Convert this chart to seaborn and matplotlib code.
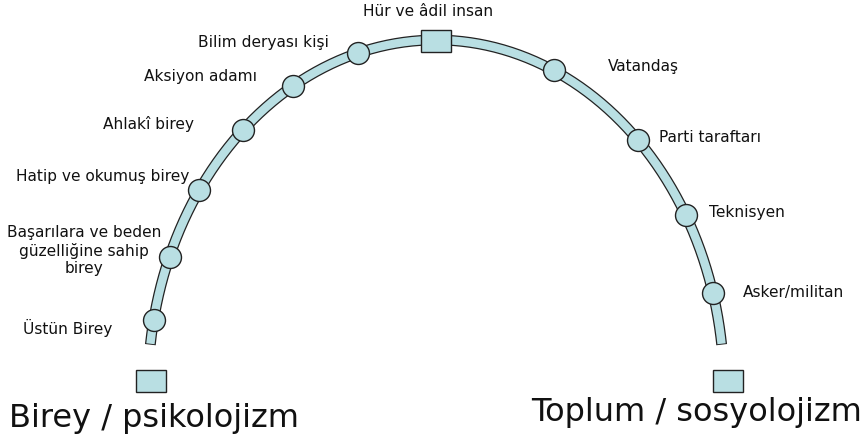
import numpy as np
import pandas as pd
import matplotlib
matplotlib.use("Agg")
import matplotlib.pyplot as plt
from matplotlib.patches import Rectangle
import seaborn as sns

# stages along the arc (angle on the arc, degrees), left = individual, right = society
labels = ["Üstün Birey", "Başarılara ve beden\ngüzelliğine sahip\nbirey",
          "Hatip ve okumuş birey", "Ahlakî birey", "Aksiyon adamı",
          "Bilim deryası kişi", "Vatandaş", "Parti taraftarı", "Teknisyen",
          "Asker/militan"]
angles = [168.6, 157.7, 145.3, 132.2, 119.8, 105.7, 65.9, 45.5, 29.9, 15.9]
top_label = "Hür ve âdil insan"
top_angle = 90.0
pole_labels = ["Birey / psikolojizm", "Toplum / sosyolojizm"]
arc_range = [172.7, 7.3]

# label centres (pixels)
label_xy = [(68, 328), (84, 251), (103, 176), (148, 124), (200, 77),
            (263, 42), (643, 67), (710, 137), (747, 212), (793, 293)]
top_xy = (428, 12)
pole_xy = [(154, 419), (697, 412)]

FILL = "#b9dfe3"
EDGE = "#222222"
cx, cy, a, b = 436, 389, 288, 349


def on_arc(deg):
    t = np.radians(np.asarray(deg, dtype=float))
    return cx + a * np.cos(t), cy - b * np.sin(t)


sns.set_theme(style="white")
plt.rcParams['font.family'] = ['DejaVu Sans']

fig = plt.figure(figsize=(8.63, 4.46), dpi=100)
ax = fig.add_axes([0, 0, 1, 1])
ax.set_xlim(0, 863)
ax.set_ylim(446, 0)
ax.axis("off")

# arc band
tt = np.linspace(arc_range[0], arc_range[1], 400)
ax_x, ax_y = on_arc(tt)
arc = pd.DataFrame({"x": ax_x, "y": ax_y})
sns.lineplot(data=arc, x="x", y="y", sort=False, ax=ax, color=EDGE,
             linewidth=7.8, solid_capstyle="butt", zorder=1)
tt2 = np.linspace(arc_range[0] - 0.15, arc_range[1] + 0.15, 400)
ix, iy = on_arc(tt2)
inner = pd.DataFrame({"x": ix, "y": iy})
sns.lineplot(data=inner, x="x", y="y", sort=False, ax=ax, color=FILL,
             linewidth=6.0, solid_capstyle="butt", zorder=2)

# circles for each stage
mx, my = on_arc(angles)
pts = pd.DataFrame({"x": mx, "y": my, "label": labels})
sns.scatterplot(data=pts, x="x", y="y", ax=ax, s=250, color=FILL,
                edgecolor=EDGE, linewidth=1.0, zorder=3, legend=False)

# squares: top and the two poles
sx, sy = on_arc(top_angle)
w, h = 30, 22
ax.add_patch(Rectangle((sx - w / 2, sy - h / 2 + 1), w, h, facecolor=FILL,
                       edgecolor=EDGE, linewidth=1.0, zorder=3))
ex, ey = on_arc(arc_range)
for px, dx in zip(ex, [1, 6]):
    ax.add_patch(Rectangle((px + dx - w / 2, 370), w, h, facecolor=FILL,
                           edgecolor=EDGE, linewidth=1.0, zorder=3))

for lab, (lx, ly) in zip(labels, label_xy):
    ax.text(lx, ly, lab, ha="center", va="center", fontsize=11.1,
            color="#111111", linespacing=1.2)
ax.text(top_xy[0], top_xy[1], top_label, ha="center", va="center",
        fontsize=11.1, color="#111111")
for lab, (lx, ly) in zip(pole_labels, pole_xy):
    ax.text(lx, ly, lab, ha="center", va="center", fontsize=23,
            color="#111111")

fig.savefig("out.png", dpi=100)
